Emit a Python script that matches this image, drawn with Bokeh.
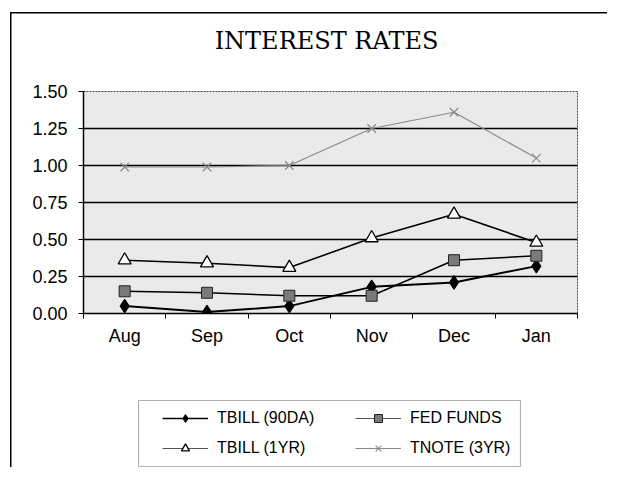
from bokeh.plotting import figure
from bokeh.layouts import column
from bokeh.models import (Legend, LegendItem, FixedTicker, BoxAnnotation,
                          NumeralTickFormatter, Range1d, Label)
from bokeh.embed import file_html
from bokeh.resources import INLINE

title_text = "INTEREST RATES"
months = ["Aug", "Sep", "Oct", "Nov", "Dec", "Jan"]
tbill_90da = [0.05, 0.01, 0.05, 0.18, 0.21, 0.32]
fed_funds = [0.15, 0.14, 0.12, 0.12, 0.36, 0.39]
tbill_1yr = [0.36, 0.34, 0.31, 0.51, 0.67, 0.48]
tnote_3yr = [0.99, 0.99, 1.00, 1.25, 1.36, 1.05]
y_ticks = [0.0, 0.25, 0.5, 0.75, 1.0, 1.25, 1.5]

# (label, values, line style, marker style, legend line style, legend marker size)
series = [
    ("TBILL (90DA)", tbill_90da,
     dict(line_color="black", line_width=2),
     dict(marker="diamond", size=14, fill_color="black", line_color="black"),
     dict(line_color="black", line_width=1.6), 9),
    ("FED FUNDS", fed_funds,
     dict(line_color="black", line_width=1.5),
     dict(marker="square", size=11, fill_color="#7a7a7a", line_color="#222222"),
     dict(line_color="#555555", line_width=1.1), 7),
    ("TBILL (1YR)", tbill_1yr,
     dict(line_color="black", line_width=1.6),
     dict(marker="triangle", size=13, fill_color="white", line_color="black",
          line_width=1.3),
     dict(line_color="#555555", line_width=1.1), 8),
    ("TNOTE (3YR)", tnote_3yr,
     dict(line_color="#8a8a8a", line_width=1.2),
     dict(marker="x", size=12, line_color="#8a8a8a", line_width=1.2),
     dict(line_color="#8a8a8a", line_width=1.1), 8),
]

xs = [i + 0.5 for i in range(len(months))]
FONT = "Liberation Sans"
W = 607
H0 = 60
H1 = 300
H2 = 107


def left_line_styles(top):
    return {
        "background-color": "white",
        "background-image": "linear-gradient(#000,#000)",
        "background-size": "1.5px 100%",
        "background-position": f"10px {top}px",
        "background-repeat": "no-repeat",
    }


# ---- title strip ----
t = figure(width=W, height=H0, output_backend="svg", toolbar_location=None,
           x_range=Range1d(0, 1), y_range=Range1d(0, 1),
           min_border=0, x_axis_type=None, y_axis_type=None)
t.grid.visible = False
t.outline_line_alpha = 0
t.background_fill_alpha = 0
t.border_fill_alpha = 0
t.styles = {
    "background-color": "white",
    "background-image": "linear-gradient(#000,#000), linear-gradient(#000,#000)",
    "background-size": "1.5px 100%, 100% 1.5px",
    "background-position": "10px 12px, 10px 12px",
    "background-repeat": "no-repeat",
}
t.add_layout(Label(x=243, y=20, x_units="screen", y_units="screen",
                   text=title_text, text_align="center",
                   text_baseline="middle", text_font="DejaVu Serif",
                   text_font_size="24px", text_color="black"))

# ---- chart ----
p = figure(width=W, height=H1, output_backend="svg", toolbar_location=None,
           x_range=Range1d(0, len(months)), y_range=Range1d(0, 1.5),
           min_border_left=83, min_border_right=30, min_border_top=31,
           min_border_bottom=47)

p.background_fill_color = "#eaeaea"
p.border_fill_alpha = 0
p.outline_line_color = "#444444"
p.outline_line_dash = "2 1"
p.outline_line_width = 1
p.styles = left_line_styles(0)

p.xaxis.ticker = FixedTicker(ticks=xs, minor_ticks=list(range(len(months) + 1)))
p.xaxis.major_label_overrides = {x: m for x, m in zip(xs, months)}
p.xaxis.major_tick_line_alpha = 0
p.xaxis.minor_tick_out = 5
p.xaxis.minor_tick_in = 0
p.xaxis.minor_tick_line_color = "black"
p.xaxis.axis_line_color = "black"
p.xaxis.axis_line_width = 1.5
p.xaxis.major_label_text_font = FONT
p.xaxis.major_label_text_font_size = "18px"
p.xaxis.major_label_text_color = "black"
p.xaxis.major_label_standoff = 6

p.yaxis.ticker = FixedTicker(ticks=y_ticks)
p.yaxis.formatter = NumeralTickFormatter(format="0.00")
p.yaxis.major_tick_out = 5
p.yaxis.major_tick_in = 0
p.yaxis.major_tick_line_color = "black"
p.yaxis.minor_tick_line_alpha = 0
p.yaxis.axis_line_color = "black"
p.yaxis.axis_line_width = 1.5
p.yaxis.major_label_text_font = FONT
p.yaxis.major_label_text_font_size = "18px"
p.yaxis.major_label_text_color = "black"
p.yaxis.major_label_standoff = 11

p.xgrid.grid_line_alpha = 0
p.ygrid.ticker = FixedTicker(ticks=y_ticks[1:-1])
p.ygrid.grid_line_color = "black"
p.ygrid.grid_line_width = 1.3

for name, vals, lstyle, mstyle, _, _ in series:
    p.line(xs, vals, **lstyle)
    p.scatter(xs, vals, **mstyle)

# ---- legend strip: its y range lies outside the data, so the series drawn
# here only feed the legend swatches ----
q = figure(width=W, height=H2, output_backend="svg", toolbar_location=None,
           x_range=Range1d(0, len(months)), y_range=Range1d(-2, -1),
           min_border=0, x_axis_type=None, y_axis_type=None)
q.grid.visible = False
q.outline_line_alpha = 0
q.background_fill_alpha = 0
q.border_fill_alpha = 0
q.styles = left_line_styles(0)

items = []
for name, vals, lstyle, mstyle, leg_line, leg_size in series:
    lr = q.line(xs, vals, **leg_line)
    sr = q.scatter(xs, vals, **dict(mstyle, size=leg_size))
    items.append(LegendItem(label=name, renderers=[lr, sr]))

q.add_layout(BoxAnnotation(left=55, right=437, top=67, bottom=1,
                           left_units="screen", right_units="screen",
                           top_units="screen", bottom_units="screen",
                           fill_color="white", fill_alpha=1,
                           line_color="black", line_width=1.2, level="underlay"))

common = dict(orientation="vertical", padding=0, spacing=10, margin=0,
              label_height=20, glyph_height=20, glyph_width=46,
              label_standoff=9, border_line_alpha=0, background_fill_alpha=0,
              label_text_font=FONT, label_text_font_size="16px",
              label_text_color="black")
q.add_layout(Legend(items=[items[0], items[2]], location=(79, 9), **common))
q.add_layout(Legend(items=[items[1], items[3]], location=(272, 9), **common))

layout = column(t, p, q, spacing=0)
open("out.html", "w").write(file_html(layout, INLINE))
